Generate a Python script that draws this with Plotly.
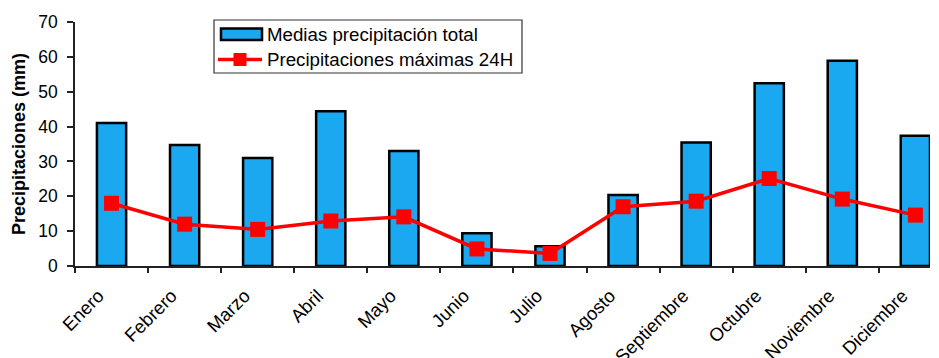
import plotly.graph_objects as go

# Monthly precipitation data (mm)
meses = ["Enero", "Febrero", "Marzo", "Abril", "Mayo", "Junio", "Julio",
         "Agosto", "Septiembre", "Octubre", "Noviembre", "Diciembre"]
medias_total = [41.0, 34.7, 31.0, 44.4, 33.0, 9.4, 5.7, 20.4, 35.4, 52.4, 58.9, 37.4]
maximas_24h = [18.0, 12.0, 10.5, 12.9, 14.1, 4.9, 3.6, 17.0, 18.6, 25.1, 19.2, 14.6]

nombre_barras = "Medias precipitación total"
nombre_linea = "Precipitaciones máximas 24H"

AZUL = "#1AA8F0"
ROJO = "#FF0000"
FONT = "Liberation Sans, Arial, sans-serif"

W, H = 939, 358
L, R, T, B = 75, 9, 22, 92
PW, PH = W - L - R, H - T - B


def px(x, y):
    """Convert page pixel coordinates to paper coordinates."""
    return (x - L) / PW, (H - B - y) / PH


fig = go.Figure()

fig.add_trace(go.Bar(
    x=meses, y=medias_total, name=nombre_barras, width=0.4,
    marker=dict(color=AZUL, line=dict(color="black", width=2.5)),
    showlegend=False,
))
fig.add_trace(go.Scatter(
    x=meses, y=maximas_24h, name=nombre_linea, mode="lines+markers",
    line=dict(color=ROJO, width=3.5),
    marker=dict(symbol="square", size=15, color=ROJO),
    showlegend=False,
))

# Hand-drawn legend box
shapes = []
annotations = []
x0, y0 = px(214, 20)
x1, y1 = px(522, 73)
shapes.append(dict(type="rect", xref="paper", yref="paper", x0=x0, y0=y0, x1=x1, y1=y1,
                   line=dict(color="#333333", width=1.2), fillcolor="white", layer="above"))
bx0, by0 = px(221, 28.5)
bx1, by1 = px(262, 40)
shapes.append(dict(type="rect", xref="paper", yref="paper", x0=bx0, y0=by0, x1=bx1, y1=by1,
                   line=dict(color="black", width=2.5), fillcolor=AZUL, layer="above"))
lx0, ly = px(218, 59.5)
lx1, _ = px(262, 59.5)
shapes.append(dict(type="line", xref="paper", yref="paper", x0=lx0, y0=ly, x1=lx1, y1=ly,
                   line=dict(color=ROJO, width=3.5), layer="above"))
mx0, my0 = px(233.5, 53)
mx1, my1 = px(246.5, 66)
shapes.append(dict(type="rect", xref="paper", yref="paper", x0=mx0, y0=my0, x1=mx1, y1=my1,
                   line=dict(width=0), fillcolor=ROJO, layer="above"))
for texto, yy in [(nombre_barras, 34.5), (nombre_linea, 60)]:
    tx, ty = px(265, yy)
    annotations.append(dict(text=texto, xref="paper", yref="paper", x=tx, y=ty,
                            xanchor="left", yanchor="middle", showarrow=False,
                            font=dict(family=FONT, size=18.7, color="black")))

fig.update_layout(
    width=W, height=H,
    margin=dict(l=L, r=R, t=T, b=B),
    paper_bgcolor="white", plot_bgcolor="white",
    font=dict(family=FONT, color="black"),
    shapes=shapes, annotations=annotations,
    xaxis=dict(
        type="category", range=[-0.5, 11.2], tickson="boundaries", automargin=False,
        ticks="outside", ticklen=5, tickcolor="#222", tickwidth=1.5,
        showline=True, linecolor="#222", linewidth=1.5,
        showgrid=False, zeroline=False,
        tickangle=-45, ticklabelshift=-13, ticklabelstandoff=10,
        tickfont=dict(size=18.5, family=FONT, color="black"),
    ),
    yaxis=dict(
        range=[0, 70], dtick=10, ticks="outside", ticklen=6, tickcolor="#222", tickwidth=1.5,
        showline=True, linecolor="#222", linewidth=1.5, automargin=False,
        showgrid=False, zeroline=False, ticklabelstandoff=6,
        tickfont=dict(size=17.5, family=FONT, color="black"),
        title=dict(text="<b>Precipitaciones (mm)</b>", standoff=8,
                   font=dict(size=18, family=FONT, color="black")),
    ),
)

fig.write_html("out.html")
